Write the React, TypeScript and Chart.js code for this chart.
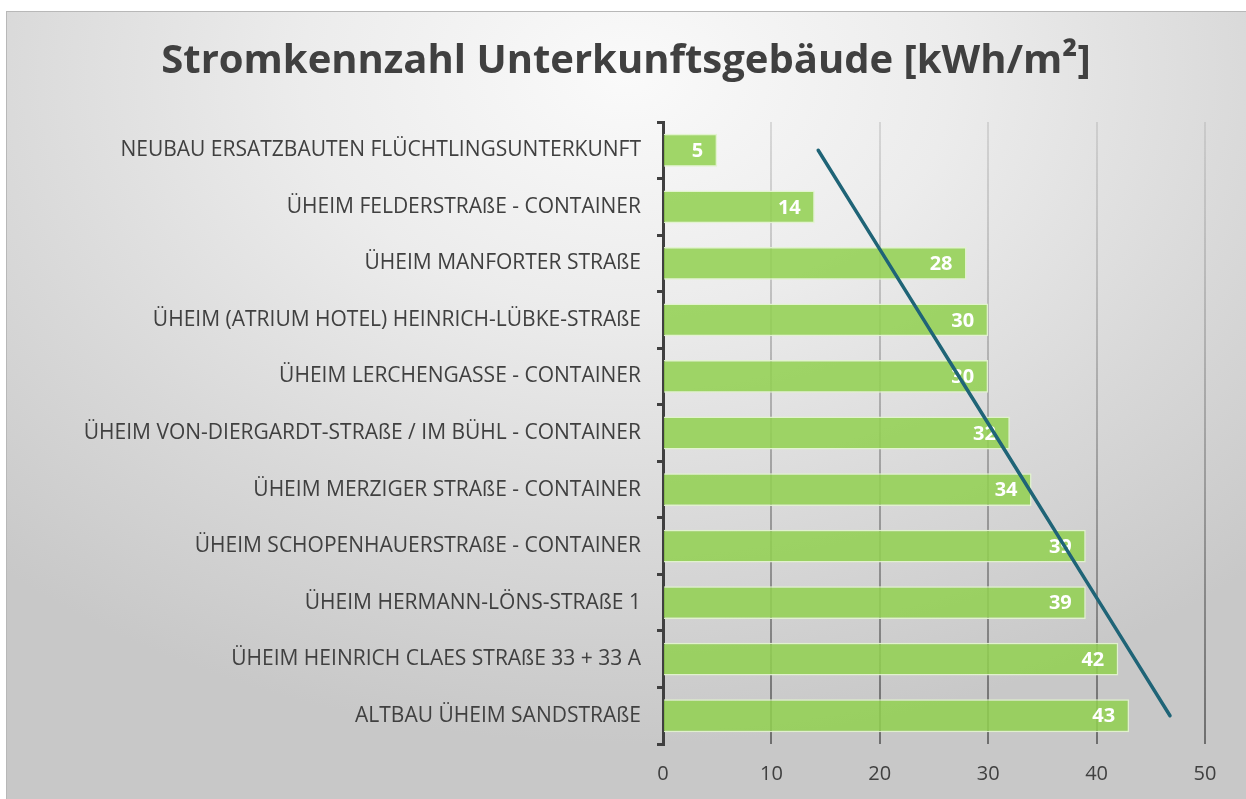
import React, { useEffect, useRef } from "react";
import { Chart, registerables } from "chart.js";

Chart.register(...registerables);

const categories: string[] = [
  "NEUBAU ERSATZBAUTEN FLÜCHTLINGSUNTERKUNFT",
  "ÜHEIM FELDERSTRAßE - CONTAINER",
  "ÜHEIM MANFORTER STRAßE",
  "ÜHEIM (ATRIUM HOTEL) HEINRICH-LÜBKE-STRAßE",
  "ÜHEIM LERCHENGASSE - CONTAINER",
  "ÜHEIM VON-DIERGARDT-STRAßE / IM BÜHL - CONTAINER",
  "ÜHEIM MERZIGER STRAßE - CONTAINER",
  "ÜHEIM SCHOPENHAUERSTRAßE - CONTAINER",
  "ÜHEIM HERMANN-LÖNS-STRAßE 1",
  "ÜHEIM HEINRICH CLAES STRAßE 33 + 33 A",
  "ALTBAU ÜHEIM SANDSTRAßE",
];

const values: number[] = [5, 14, 28, 30, 30, 32, 34, 39, 39, 42, 43];

const xTickValues: number[] = [0, 10, 20, 30, 40, 50];

const titleText = "Stromkennzahl Unterkunftsgebäude [kWh/m²]";

// Linear trendline (least squares over category index), as Excel does
function linearTrend(ys: number[]): number[] {
  const n = ys.length;
  const xs = ys.map((_, i) => i + 1);
  const mx = xs.reduce((a, b) => a + b, 0) / n;
  const my = ys.reduce((a, b) => a + b, 0) / n;
  let num = 0;
  let den = 0;
  for (let i = 0; i < n; i++) {
    num += (xs[i] - mx) * (ys[i] - my);
    den += (xs[i] - mx) * (xs[i] - mx);
  }
  const slope = num / den;
  const icpt = my - slope * mx;
  return xs.map((x) => icpt + slope * x);
}

const trend = linearTrend(values);

const barLabels = {
  id: "barLabels",
  afterDatasetDraw(chart: any, args: any) {
    if (args.index !== 1) return;
    const ctx = chart.ctx;
    ctx.save();
    ctx.font = 'bold 20px "Open Sans"';
    ctx.fillStyle = "#ffffff";
    ctx.textAlign = "right";
    ctx.textBaseline = "middle";
    args.meta.data.forEach((el: any, i: number) => {
      ctx.fillText(String(values[i]), el.x - 14, el.y + 1);
    });
    ctx.restore();
  },
};

const titlePlugin = {
  id: "customTitle",
  afterDraw(chart: any) {
    const ctx = chart.ctx;
    ctx.save();
    ctx.font = 'bold 40px "Open Sans"';
    ctx.fillStyle = "#404040";
    ctx.textAlign = "center";
    ctx.textBaseline = "middle";
    ctx.fillText(titleText, 626, 62);
    ctx.restore();
  },
};

export default function App() {
  const canvasRef = useRef<HTMLCanvasElement | null>(null);

  useEffect(() => {
    document.body.style.margin = "0";
    const canvas = canvasRef.current;
    if (!canvas) return;
    const chart = new Chart(canvas, {
      type: "bar",
      data: {
        labels: categories,
        datasets: [
          {
            type: "line",
            label: "Trend",
            data: trend,
            indexAxis: "y",
            borderColor: "#1f6477",
            borderWidth: 3.5,
            pointRadius: 0,
            fill: false,
            order: 0,
            borderCapStyle: "round",
          } as any,
          {
            type: "bar",
            label: "Stromkennzahl",
            data: values,
            backgroundColor: "rgba(146,208,80,0.86)",
            borderColor: "rgba(225,243,205,0.95)",
            borderWidth: 1.5,
            categoryPercentage: 1,
            barPercentage: 0.58,
            order: 1,
          },
        ],
      },
      options: {
        indexAxis: "y",
        responsive: false,
        animation: false,
        layout: { padding: { left: 6, right: 41, top: 122, bottom: 0 } },
        plugins: {
          legend: { display: false },
          tooltip: { enabled: false },
          title: { display: false },
        },
        scales: {
          x: {
            min: 0,
            max: 50,
            afterFit: (s: any) => {
              s.height = 55;
            },
            afterBuildTicks: (s: any) => {
              s.ticks = xTickValues.map((v) => ({ value: v }));
            },
            border: { display: false },
            grid: {
              drawTicks: false,
              lineWidth: 2,
              color: (c: any) => {
                const ch = c.chart;
                const area = ch.chartArea;
                if (!area) return "rgba(120,120,120,0.6)";
                const g = ch.ctx.createLinearGradient(0, area.top, 0, area.bottom);
                g.addColorStop(0, "rgba(175,175,175,0.4)");
                g.addColorStop(1, "rgba(95,95,95,0.85)");
                return g;
              },
            },
            ticks: {
              color: "#404040",
              padding: 18,
              font: { family: '"Open Sans"', size: 20 },
            },
          },
          y: {
            afterFit: (s: any) => {
              s.width = 657;
            },
            border: { display: true, color: "#404040", width: 3 },
            grid: {
              offset: true,
              drawOnChartArea: false,
              drawTicks: true,
              tickLength: 6,
              color: "#404040",
              lineWidth: 3,
            },
            ticks: {
              color: "#404040",
              padding: 16,
              font: { family: '"Open Sans"', size: 21 },
            },
          },
        },
      },
      plugins: [barLabels, titlePlugin],
    });
    return () => chart.destroy();
  }, []);

  return (
    <div
      style={{
        position: "relative",
        width: 1246,
        height: 799,
        background: "#ffffff",
        overflow: "hidden",
      }}
    >
      <div
        style={{
          position: "absolute",
          left: 6,
          top: 11,
          right: 0,
          bottom: 0,
          borderLeft: "1px solid #b8b8b8",
          borderTop: "1px solid #b8b8b8",
          background:
            "radial-gradient(ellipse 75% 85% at 50% 8%, #fafafa 0%, #ececec 35%, #d8d8d8 70%, #c8c8c8 100%)",
        }}
      />
      <canvas
        ref={canvasRef}
        width={1246}
        height={799}
        style={{ position: "absolute", left: 0, top: 0, width: 1246, height: 799 }}
      />
    </div>
  );
}
